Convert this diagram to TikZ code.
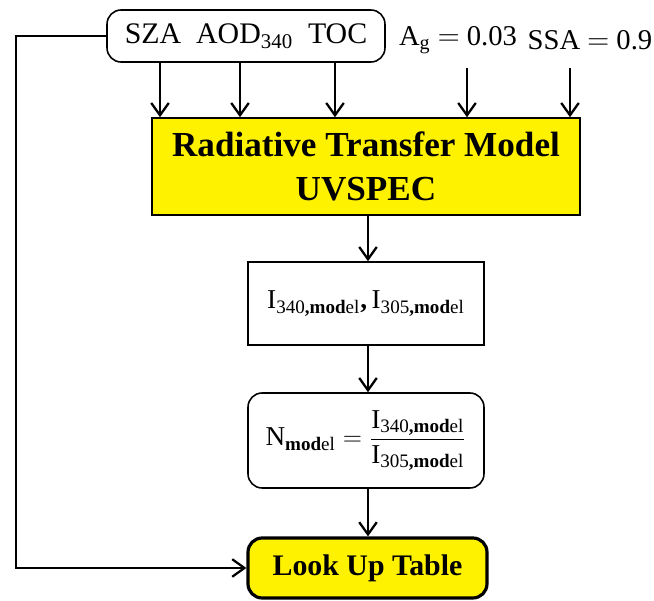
\documentclass[tikz,border=0pt]{standalone}
\usepackage{amsmath}
\usepackage{fontspec}
\setmainfont{Liberation Serif}
\usepackage{xcolor}
\usetikzlibrary{arrows.meta, positioning}
\tikzset{
    >={Straight Barb[length=7pt,width=10pt]}, % open arrow heads
    box/.style={draw, line width=0.9pt, align=center, font=\fontsize{15.5}{19}\selectfont}, % plain box
    roundbox/.style={box, rounded corners=8pt}, % box with round corners
    model/.style={box, fill=yellow, font=\fontsize{20}{25}\bfseries}, % the model itself
    lookup/.style={roundbox, fill=yellow, line width=1.8pt, font=\fontsize{17}{20}\bfseries},
    plain/.style={font=\fontsize{16.3}{20}\selectfont},
}
\tikzstyle{arrow} = [line width=1.3pt, ->]
\newcommand{\mdl}{\textbf{,mod}\text{el}}

\begin{document}
\begin{tikzpicture}[x=0.02cm, y=-0.02cm]
    \useasboundingbox (0,0) rectangle (654,601);
    % inputs
    \node[roundbox, font=\fontsize{17}{20}\selectfont, minimum width=5.56cm, minimum height=1.04cm] (inputs) at (246,36)
        {SZA\ \ AOD$_{\text{340}}$\ \ TOC};
    \node[plain] (ag) at (458,40) {A$_{\text{g}}$ $=$ 0.03};
    \node[plain] (ssa) at (590,40) {SSA $=$ 0.9};
    \coordinate (agend) at (467,68);
    \coordinate (ssaend) at (570,68);
    % model and outputs
    \node[model, minimum width=8.56cm, minimum height=1.94cm] (rtm) at (366,166.5)
        {Radiative Transfer Model\\UVSPEC};
    \node[box, minimum width=4.72cm, minimum height=1.66cm] (intens) at (366,303.5)
        {I$_{\text{340}\mdl}$\textbf{,}\,I$_{\text{305}\mdl}$};
    \node[roundbox, minimum width=4.72cm, minimum height=1.9cm] (ratio) at (366,440.5)
        {N$_{\text{\textbf{mod}el}} = \dfrac{\text{I}_{\text{340}\mdl}}{\text{I}_{\text{305}\mdl}}$};
    \node[lookup, minimum width=4.78cm, minimum height=1.2cm] (lut) at (367.5,568)
        {Look Up Table};
    \coordinate (bend) at (16,0);

    \foreach \xx in {160,240,335}
        \draw[arrow] (\xx,0 |- inputs.south) -- (\xx,0 |- rtm.north);
    \draw[arrow] (agend) -- (agend |- rtm.north);
    \draw[arrow] (ssaend) -- (ssaend |- rtm.north);
    \draw[arrow] (rtm.south -| 368,0) -- (intens.north -| 368,0);
    \draw[arrow] (intens.south -| 368,0) -- (ratio.north -| 368,0);
    \draw[arrow] (ratio.south -| 368,0) -- (lut.north -| 368,0);
    \draw[arrow] (inputs.west) -- (inputs.west -| bend) |- (lut.west);
\end{tikzpicture}
\end{document}
